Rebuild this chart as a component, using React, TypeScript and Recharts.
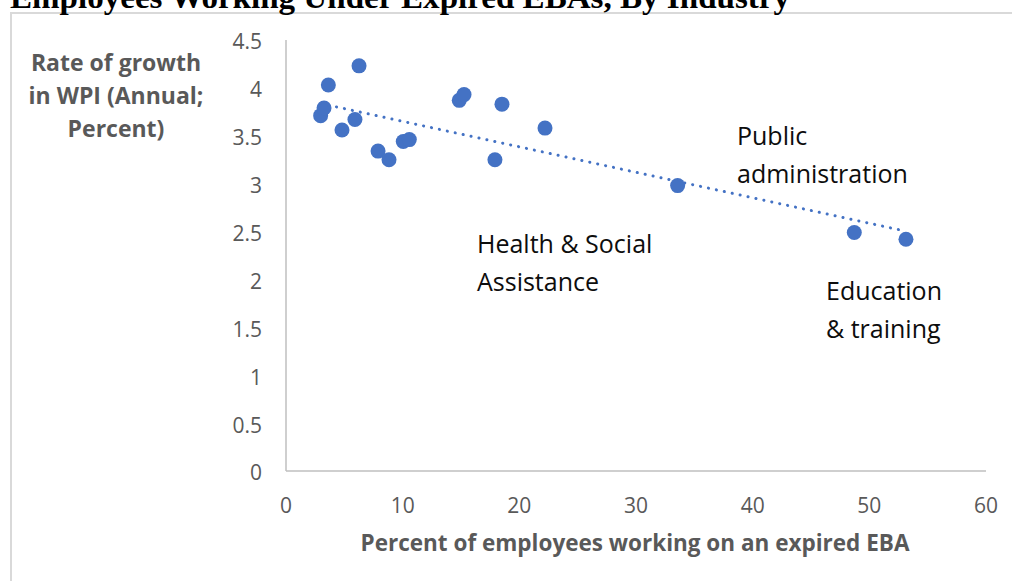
import React from "react";
import { ScatterChart, Scatter, XAxis, YAxis } from "recharts";

// Share of employees on an expired EBA (%) and annual WPI growth (%), one point per industry
const expiredEbaPct = [
  2.97, 3.26, 3.63, 4.8, 5.91, 6.26, 7.89, 8.83, 10.05, 10.57, 14.85, 15.26,
  18.51, 17.91, 22.2, 33.57, 48.71, 53.14,
];
const wpiGrowth = [
  3.71, 3.79, 4.03, 3.56, 3.67, 4.23, 3.34, 3.25, 3.44, 3.46, 3.87, 3.93,
  3.83, 3.25, 3.58, 2.98, 2.49, 2.42,
];

const xTicks = [0, 10, 20, 30, 40, 50, 60];
const yTicks = [0, 0.5, 1, 1.5, 2, 2.5, 3, 3.5, 4, 4.5];

const yTitleLines = ["Rate of growth", "in WPI (Annual;", "Percent)"];

const BLUE = "#4472C4";
const GREY_TEXT = "#595959";
const SANS = "'Open Sans', sans-serif";

const points = expiredEbaPct.map((x, i) => ({ x, y: wpiGrowth[i] }));

// ordinary least-squares trend over the industry points
function linearTrend(data: { x: number; y: number }[]) {
  const n = data.length;
  const mx = data.reduce((s, d) => s + d.x, 0) / n;
  const my = data.reduce((s, d) => s + d.y, 0) / n;
  let sxy = 0;
  let sxx = 0;
  data.forEach((d) => {
    sxy += (d.x - mx) * (d.y - my);
    sxx += (d.x - mx) * (d.x - mx);
  });
  const slope = sxy / sxx;
  const intercept = my - slope * mx;
  const xs = data.map((d) => d.x);
  const lo = Math.min(...xs);
  const hi = Math.max(...xs);
  return [
    { x: lo, y: intercept + slope * lo },
    { x: hi, y: intercept + slope * hi },
  ];
}

const trend = linearTrend(points);

const Dot = (props: any) => (
  <circle cx={props.cx} cy={props.cy} r={7.5} fill={BLUE} />
);

export default function App() {
  return (
    <div
      style={{
        position: "absolute",
        left: 0,
        top: 0,
        width: 1012,
        height: 581,
        overflow: "hidden",
        background: "#fff",
      }}
    >
      <div style={{ position: "absolute", left: 0, top: 0 }}>
        <ScatterChart
          width={1012}
          height={581}
          margin={{ top: 40, right: 26, bottom: 0, left: 0 }}
        >
          <XAxis
            type="number"
            dataKey="x"
            domain={[0, 60]}
            ticks={xTicks}
            height={110}
            tickSize={0}
            tickMargin={27}
            tickLine={false}
            axisLine={{ stroke: "#bfbfbf", strokeWidth: 1.5 }}
            tick={{ fill: GREY_TEXT, fontSize: 21, fontFamily: SANS }}
          />
          <YAxis
            type="number"
            dataKey="y"
            domain={[0, 4.5]}
            ticks={yTicks}
            width={286}
            tickSize={0}
            tickMargin={24}
            tickLine={false}
            axisLine={{ stroke: "#bfbfbf", strokeWidth: 1.5 }}
            tick={{ fill: GREY_TEXT, fontSize: 21, fontFamily: SANS, dy: 2 }}
          />
          <Scatter data={points} fill={BLUE} shape={Dot} isAnimationActive={false} />
          <Scatter
            data={trend}
            fill={BLUE}
            shape={() => <g />}
            line={{
              stroke: BLUE,
              strokeWidth: 3,
              strokeDasharray: "0.1 8",
              strokeLinecap: "round",
            }}
            isAnimationActive={false}
          />
        </ScatterChart>
      </div>
      <svg
        width={1012}
        height={581}
        style={{ position: "absolute", left: 0, top: 0, pointerEvents: "none" }}
      >
        <rect x={11} y={13} width={1100} height={700} fill="none" stroke="#d9d9d9" strokeWidth={2} />
        <text
          x={10}
          y={8}
          fontFamily="'Liberation Serif', serif"
          fontWeight="bold"
          fontSize={32}
          textLength={780}
          lengthAdjust="spacingAndGlyphs"
          fill="#000"
        >
          Employees Working Under Expired EBAs, By Industry
        </text>
        {yTitleLines.map((line, i) => (
          <text
            key={line}
            x={116}
            y={71 + i * 33}
            textAnchor="middle"
            fontFamily={SANS}
            fontWeight="bold"
            fontSize={23}
            fill={GREY_TEXT}
          >
            {line}
          </text>
        ))}
        <text
          x={635}
          y={551}
          textAnchor="middle"
          fontFamily={SANS}
          fontWeight="bold"
          fontSize={22.5}
          fill={GREY_TEXT}
        >
          Percent of employees working on an expired EBA
        </text>
        <g fontFamily={SANS} fontSize={25} fill="#0d0d0d">
          <text x={737} y={145}>Public</text>
          <text x={737} y={183}>administration</text>
          <text x={477} y={253}>Health &amp; Social</text>
          <text x={477} y={291}>Assistance</text>
          <text x={826} y={300}>Education</text>
          <text x={826} y={338}>&amp; training</text>
        </g>
      </svg>
    </div>
  );
}
